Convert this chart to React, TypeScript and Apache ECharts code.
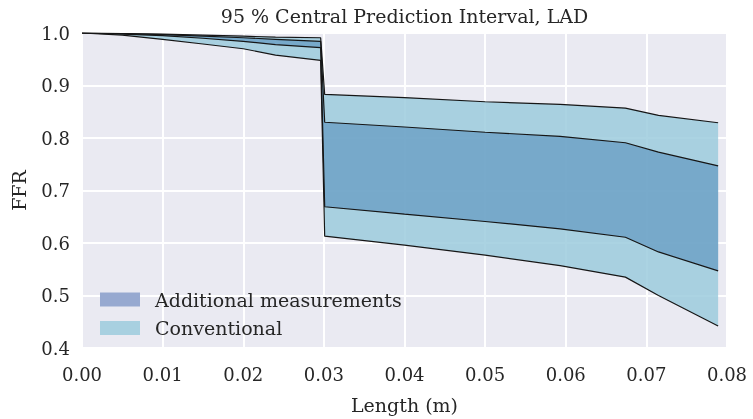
import { useEffect, useRef } from "react";
import * as echarts from "echarts";

// Position along the vessel (m)
const lengths = [0, 0.005, 0.01, 0.015, 0.02, 0.024, 0.0296, 0.0301, 0.04, 0.05, 0.0593, 0.0674, 0.0715, 0.0789];

// Conventional 95 % interval bounds
const convUpper = [1.0, 0.999, 0.998, 0.996, 0.994, 0.992, 0.991, 0.883, 0.877, 0.869, 0.864, 0.857, 0.843, 0.829];
const convLower = [1.0, 0.996, 0.988, 0.979, 0.970, 0.958, 0.948, 0.613, 0.596, 0.577, 0.557, 0.535, 0.5, 0.442];

// Interval bounds with additional measurements
const addUpper = [1.0, 0.999, 0.997, 0.994, 0.991, 0.988, 0.984, 0.83, 0.821, 0.811, 0.803, 0.791, 0.773, 0.747];
const addLower = [1.0, 0.998, 0.995, 0.99, 0.984, 0.978, 0.972, 0.669, 0.655, 0.641, 0.627, 0.611, 0.583, 0.547];

const xTicks = { min: 0, max: 0.08, step: 0.01 };
const yTicks = { min: 0.4, max: 1.0, step: 0.1 };

const FONT = "DejaVu Serif";
const INK = "#262626";

const pairs = (ys: number[]) => lengths.map((x, i) => [x, ys[i]]);

// A filled band between two bounds, drawn as one polygon in data coordinates.
function band(name: string, lo: number[], hi: number[], fill: string, legendColor: string) {
  return {
    name,
    type: "custom",
    data: lengths.map((x, i) => [x, lo[i], hi[i]]),
    encode: { x: 0, y: [1, 2] },
    itemStyle: { color: legendColor },
    silent: true,
    z: 2,
    renderItem: (params: any, api: any) => {
      if (params.dataIndex !== 0) return null;
      const top = lengths.map((x, i) => api.coord([x, hi[i]]));
      const bottom = lengths.map((x, i) => api.coord([x, lo[i]])).reverse();
      return {
        type: "polygon",
        shape: { points: top.concat(bottom) },
        style: { fill, stroke: "none" },
      };
    },
  };
}

function edge(name: string, ys: number[]) {
  return {
    name,
    type: "line",
    data: pairs(ys),
    symbol: "none",
    lineStyle: { color: "#161616", width: 1.2 },
    silent: true,
    z: 3,
  };
}

export default function App() {
  const ref = useRef<HTMLDivElement>(null);

  useEffect(() => {
    const chart = echarts.init(ref.current!, null, { renderer: "svg" });

    chart.setOption({
      animation: false,
      title: {
        text: "95 % Central Prediction Interval, LAD",
        left: 404.5,
        top: 6,
        textAlign: "center",
        padding: 0,
        textStyle: { fontFamily: FONT, fontSize: 19, fontWeight: "normal", color: INK },
      },
      grid: {
        left: 82,
        right: 26,
        top: 33,
        bottom: 64,
        show: true,
        backgroundColor: "#eaeaf2",
        borderWidth: 0,
      },
      legend: {
        orient: "vertical",
        left: 100,
        top: 290,
        padding: 0,
        itemWidth: 40,
        itemHeight: 14,
        itemGap: 9.5,
        selectedMode: false,
        textStyle: {
          fontFamily: FONT,
          fontSize: 19,
          color: INK,
          lineHeight: 19,
          padding: [0, 0, 0, 10],
        },
        data: [
          { name: "Additional measurements", icon: "rect", itemStyle: { color: "#97a9d0", borderWidth: 0 } },
          { name: "Conventional", icon: "rect", itemStyle: { color: "#a8d0e0", borderWidth: 0 } },
        ],
      },
      xAxis: {
        type: "value",
        min: xTicks.min,
        max: xTicks.max,
        interval: xTicks.step,
        name: "Length (m)",
        nameLocation: "middle",
        nameGap: 47,
        nameTextStyle: { fontFamily: FONT, fontSize: 19, color: INK },
        axisLine: { show: false },
        axisTick: { show: false },
        axisLabel: {
          margin: 17,
          fontFamily: FONT,
          fontSize: 18,
          color: INK,
          formatter: (v: number) => v.toFixed(2),
        },
        splitLine: { show: true, lineStyle: { color: "#ffffff", width: 2 } },
      },
      yAxis: {
        type: "value",
        min: yTicks.min,
        max: yTicks.max,
        interval: yTicks.step,
        name: "FFR",
        nameLocation: "middle",
        nameGap: 54,
        nameTextStyle: { fontFamily: FONT, fontSize: 19, color: INK },
        axisLine: { show: false },
        axisTick: { show: false },
        axisLabel: {
          margin: 12,
          fontFamily: FONT,
          fontSize: 18,
          color: INK,
          formatter: (v: number) => v.toFixed(1),
        },
        splitLine: { show: true, lineStyle: { color: "#ffffff", width: 2 } },
      },
      series: [
        band("Conventional", convLower, convUpper, "rgba(156,203,221,0.85)", "#a8d0e0"),
        band("Additional measurements", addLower, addUpper, "rgba(70,130,180,0.5)", "#97a9d0"),
        edge("Conventional upper", convUpper),
        edge("Conventional lower", convLower),
        edge("Additional upper", addUpper),
        edge("Additional lower", addLower),
      ],
    });

    return () => chart.dispose();
  }, []);

  return (
    <div
      ref={ref}
      style={{ position: "fixed", left: 0, top: 0, width: 753, height: 419 }}
    />
  );
}
